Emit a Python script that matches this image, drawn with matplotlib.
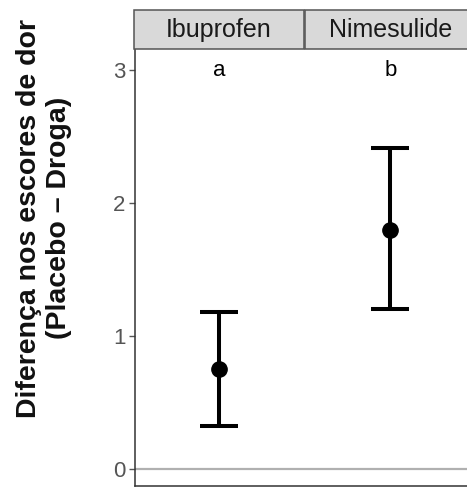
import matplotlib
matplotlib.use("Agg")
import matplotlib.pyplot as plt
from matplotlib.patches import Rectangle

# Data: mean difference in pain scores (placebo - drug) with interval limits
drugs = ["Ibuprofen", "Nimesulide"]
means = [0.75, 1.80]
lower = [0.32, 1.20]
upper = [1.18, 2.41]
letters = ["a", "b"]
yticks = [0, 1, 2, 3]

plt.rcParams["font.family"] = ["Liberation Sans", "DejaVu Sans"]

W, H = 467, 490
fig = plt.figure(figsize=(W / 100, H / 100), dpi=100)

def fx(px):
    return px / W

def fy(py):
    return (H - py) / H

panel_top, panel_bot = 49, 486
panel_left, panel_right = 135, 476
ylim = (-0.128, 3.158)

ax = fig.add_axes([fx(panel_left), fy(panel_bot), fx(panel_right - panel_left),
                   (panel_bot - panel_top) / H])
xpos = list(range(1, len(drugs) + 1))
ax.set_xlim(0.51, 2.50)
ax.set_ylim(*ylim)
ax.axhline(0, color="#b0b0b0", lw=1.6, zorder=1)
for i, drug in enumerate(drugs):
    ax.errorbar([xpos[i]], [means[i]],
                yerr=[[means[i] - lower[i]], [upper[i] - means[i]]],
                fmt="o", color="black", ms=11, lw=2.9, capsize=14,
                capthick=2.9, zorder=3)
    ax.text(xpos[i], 3.0, letters[i], ha="center", va="center", fontsize=16,
            color="black")
ax.set_xticks([])
for s in ["top", "right"]:
    ax.spines[s].set_visible(False)
for s in ["left", "bottom"]:
    ax.spines[s].set_color("#333333")
    ax.spines[s].set_linewidth(1.1)
ax.set_yticks(yticks)
ax.set_yticklabels([str(t) for t in yticks])
ax.tick_params(axis="y", length=4, width=1, color="#555555",
               labelcolor="#555555", labelsize=16, pad=3)

# facet strips
strip_edges = [(134, 304), (305, 476)]
for i, drug in enumerate(drugs):
    sx0, sx1 = strip_edges[i]
    fig.patches.append(Rectangle((fx(sx0), fy(49)), fx(sx1 - sx0),
                                 (49 - 10) / H, transform=fig.transFigure,
                                 facecolor="#d9d9d9", edgecolor="#555555",
                                 lw=1.1, zorder=0))
    xc = ax.transData.transform((xpos[i], 0))[0]
    fig.text(xc / W, fy(30), drug, ha="center", va="center", fontsize=18,
             color="#1a1a1a")

fig.text(fx(44), fy(218), "Diferença nos escores de dor\n(Placebo – Droga)",
         rotation=90, ha="center", va="center", ma="center",
         fontsize=20.5, fontweight="bold", linespacing=1.2, color="#111111")

fig.savefig("out.png", dpi=100)
